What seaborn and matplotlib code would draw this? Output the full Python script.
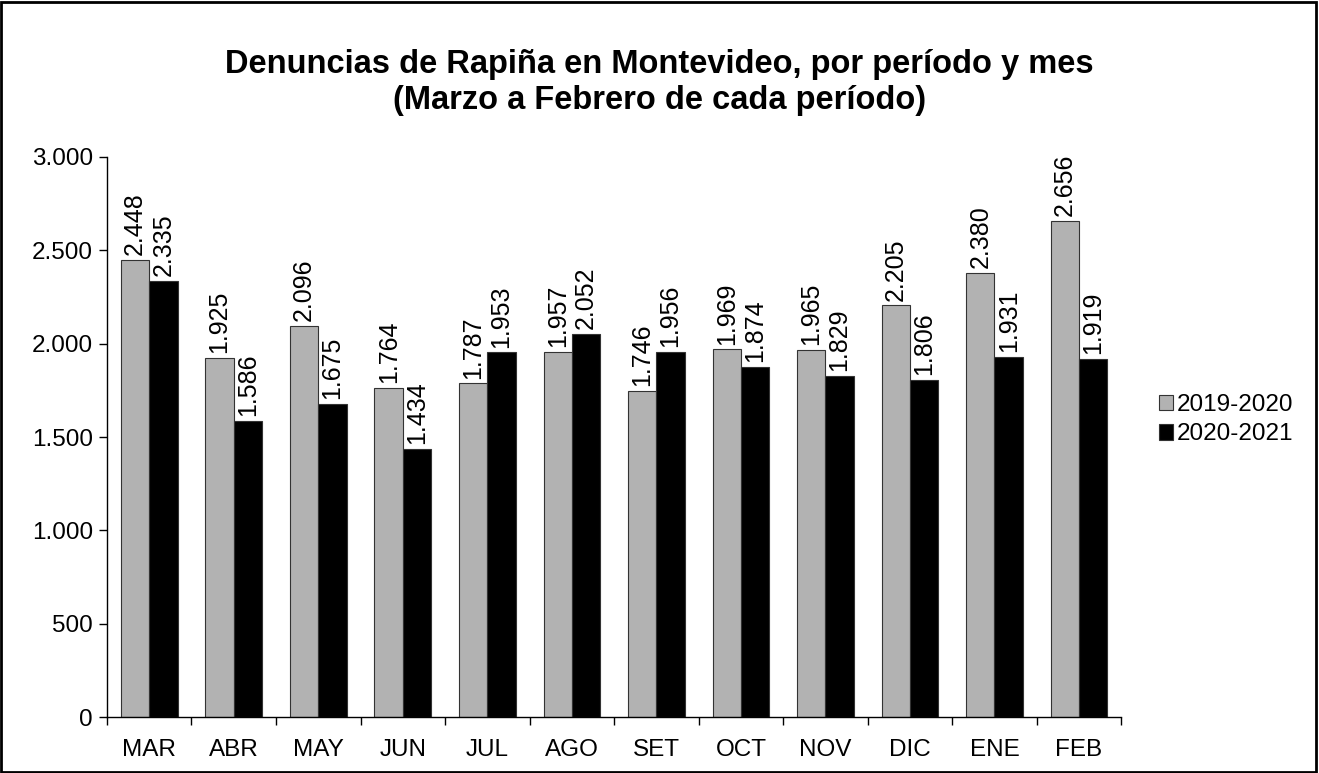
import matplotlib
matplotlib.use("Agg")
import matplotlib.pyplot as plt
import matplotlib.patches as mpatches
from matplotlib.ticker import FuncFormatter, FixedLocator
import pandas as pd
import seaborn as sns

MONTHS = ["MAR", "ABR", "MAY", "JUN", "JUL", "AGO", "SET", "OCT", "NOV", "DIC", "ENE", "FEB"]
SERIES = ["2019-2020", "2020-2021"]
VALS_2019 = [2448, 1925, 2096, 1764, 1787, 1957, 1746, 1969, 1965, 2205, 2380, 2656]
VALS_2020 = [2335, 1586, 1675, 1434, 1953, 2052, 1956, 1874, 1829, 1806, 1931, 1919]
COLORS = ["#b2b2b2", "#000000"]


def fmt_miles(v):
    return f"{int(round(v)):,}".replace(",", ".")


def main() -> None:
    sns.set_style("ticks")
    plt.rcParams["font.family"] = ["Liberation Sans", "DejaVu Sans"]
    plt.rcParams["text.color"] = "black"
    plt.rcParams["xtick.color"] = "black"
    plt.rcParams["ytick.color"] = "black"
    plt.rcParams["xtick.labelcolor"] = "black"
    plt.rcParams["ytick.labelcolor"] = "black"

    df = pd.DataFrame({
        "mes": MONTHS * 2,
        "periodo": [SERIES[0]] * 12 + [SERIES[1]] * 12,
        "valor": VALS_2019 + VALS_2020,
    })

    fig = plt.figure(figsize=(13.19, 7.73), dpi=100)
    ax = fig.add_axes([0.0811, 0.0724, 0.769, 0.7245])

    sns.barplot(
        data=df, x="mes", y="valor", hue="periodo", order=MONTHS, hue_order=SERIES,
        palette=COLORS, width=0.67, edgecolor="#333333", linewidth=0.8,
        errorbar=None, ax=ax, legend=False,
    )

    for cont in ax.containers:
        labels = [fmt_miles(b.get_height()) for b in cont]
        ax.bar_label(cont, labels=labels, rotation=90, padding=3.5, fontsize=18, color="black")

    ax.set_xlim(-0.5, 11.5)
    ax.set_ylim(0, 3000)
    ax.set_yticks(range(0, 3001, 500))
    ax.yaxis.set_major_formatter(FuncFormatter(lambda v, p: fmt_miles(v)))
    ax.set_xlabel("")
    ax.set_ylabel("")

    ax.xaxis.set_minor_locator(FixedLocator([i - 0.5 for i in range(13)]))
    ax.tick_params(axis="x", which="major", bottom=True, length=0, labelsize=17.5, pad=16)
    ax.tick_params(axis="x", which="minor", bottom=True, length=6, width=1, color="black",
                   direction="out")
    ax.tick_params(axis="y", left=True, length=6, width=1, color="black", direction="out",
                   labelsize=17.5, pad=4)

    for s in ["top", "right"]:
        ax.spines[s].set_visible(False)
    for s in ["left", "bottom"]:
        ax.spines[s].set_color("black")
        ax.spines[s].set_linewidth(1)

    handles = [mpatches.Patch(facecolor=c, edgecolor="#333333", linewidth=0.8, label=l)
               for c, l in zip(COLORS, SERIES)]
    fig.legend(handles=handles, loc="center left", bbox_to_anchor=(0.862, 0.457),
               frameon=False, fontsize=17.5, handlelength=0.6, handleheight=0.6,
               handletextpad=0.15, labelspacing=0.3)

    fig.text(0.5, 0.893, "Denuncias de Rapiña en Montevideo, por período y mes\n"
             "(Marzo a Febrero de cada período)", ha="center", va="center",
             fontsize=23.5, fontweight="bold", linespacing=1.2, color="black")

    fig.patches.append(mpatches.Rectangle((0.001, 0.001), 0.997, 0.997, transform=fig.transFigure,
                                          fill=False, edgecolor="black", linewidth=2))

    fig.savefig("out.png", dpi=100)


if __name__ == "__main__":
    main()
